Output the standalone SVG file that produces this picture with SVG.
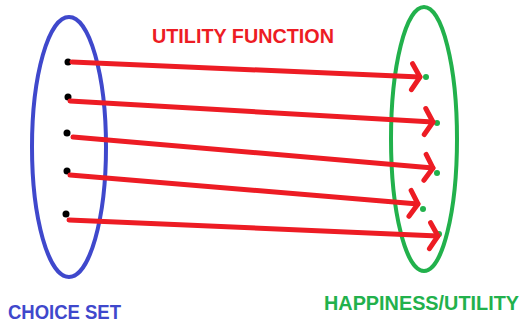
<svg xmlns="http://www.w3.org/2000/svg" width="522" height="323" viewBox="0 0 522 323">
<style>
.conn{stroke:#ed1c24;stroke-width:5;fill:none;stroke-linecap:round;marker-end:url(#chev)}
.bdot{fill:#000}
.gdot{fill:#22b14c}
.lbl{font-family:"Liberation Sans",Arial,sans-serif;font-weight:bold;font-size:20px}
</style>
<defs>
<marker id="chev" markerUnits="userSpaceOnUse" viewBox="-20 -20 30 40" refX="0" refY="0" markerWidth="30" markerHeight="40" orient="auto" overflow="visible">
<path d="M-8,-13 L0,0 L-8,13" fill="none" stroke="#ed1c24" stroke-width="5" stroke-linecap="round" stroke-linejoin="round"/>
</marker>
</defs>
<rect width="522" height="323" fill="#fff"/>
<g id="choice-set">
<ellipse cx="69" cy="147" rx="37" ry="130" fill="none" stroke="#3f48cc" stroke-width="4"/>
<circle class="bdot" cx="68" cy="62" r="3.5"/>
<circle class="bdot" cx="68" cy="97" r="3.5"/>
<circle class="bdot" cx="67" cy="133" r="3.5"/>
<circle class="bdot" cx="67" cy="171" r="3.5"/>
<circle class="bdot" cx="66" cy="214" r="3.5"/>
<text class="lbl" x="8" y="319" fill="#3f48cc" textLength="113" lengthAdjust="spacingAndGlyphs">CHOICE SET</text>
</g>
<g id="happiness">
<ellipse cx="424" cy="139" rx="33" ry="132" fill="none" stroke="#22b14c" stroke-width="4"/>
<circle class="gdot" cx="426" cy="77" r="3"/>
<circle class="gdot" cx="437" cy="123" r="3"/>
<circle class="gdot" cx="437" cy="173" r="3"/>
<circle class="gdot" cx="423" cy="209" r="3"/>
<circle class="gdot" cx="439" cy="234" r="3"/>
<text class="lbl" x="324" y="310" fill="#22b14c" textLength="195" lengthAdjust="spacingAndGlyphs">HAPPINESS/UTILITY</text>
</g>
<g id="utility-function-label">
<text class="lbl" x="152" y="43" fill="#ed1c24" textLength="182" lengthAdjust="spacingAndGlyphs">UTILITY FUNCTION</text>
</g>
<g id="connectors">
<line class="conn" x1="72" y1="62" x2="420" y2="77"/>
<line class="conn" x1="70" y1="101" x2="433" y2="122"/>
<line class="conn" x1="73" y1="137" x2="433" y2="168"/>
<line class="conn" x1="70" y1="175" x2="418" y2="204"/>
<line class="conn" x1="69" y1="220" x2="438" y2="236"/>
</g>
</svg>
